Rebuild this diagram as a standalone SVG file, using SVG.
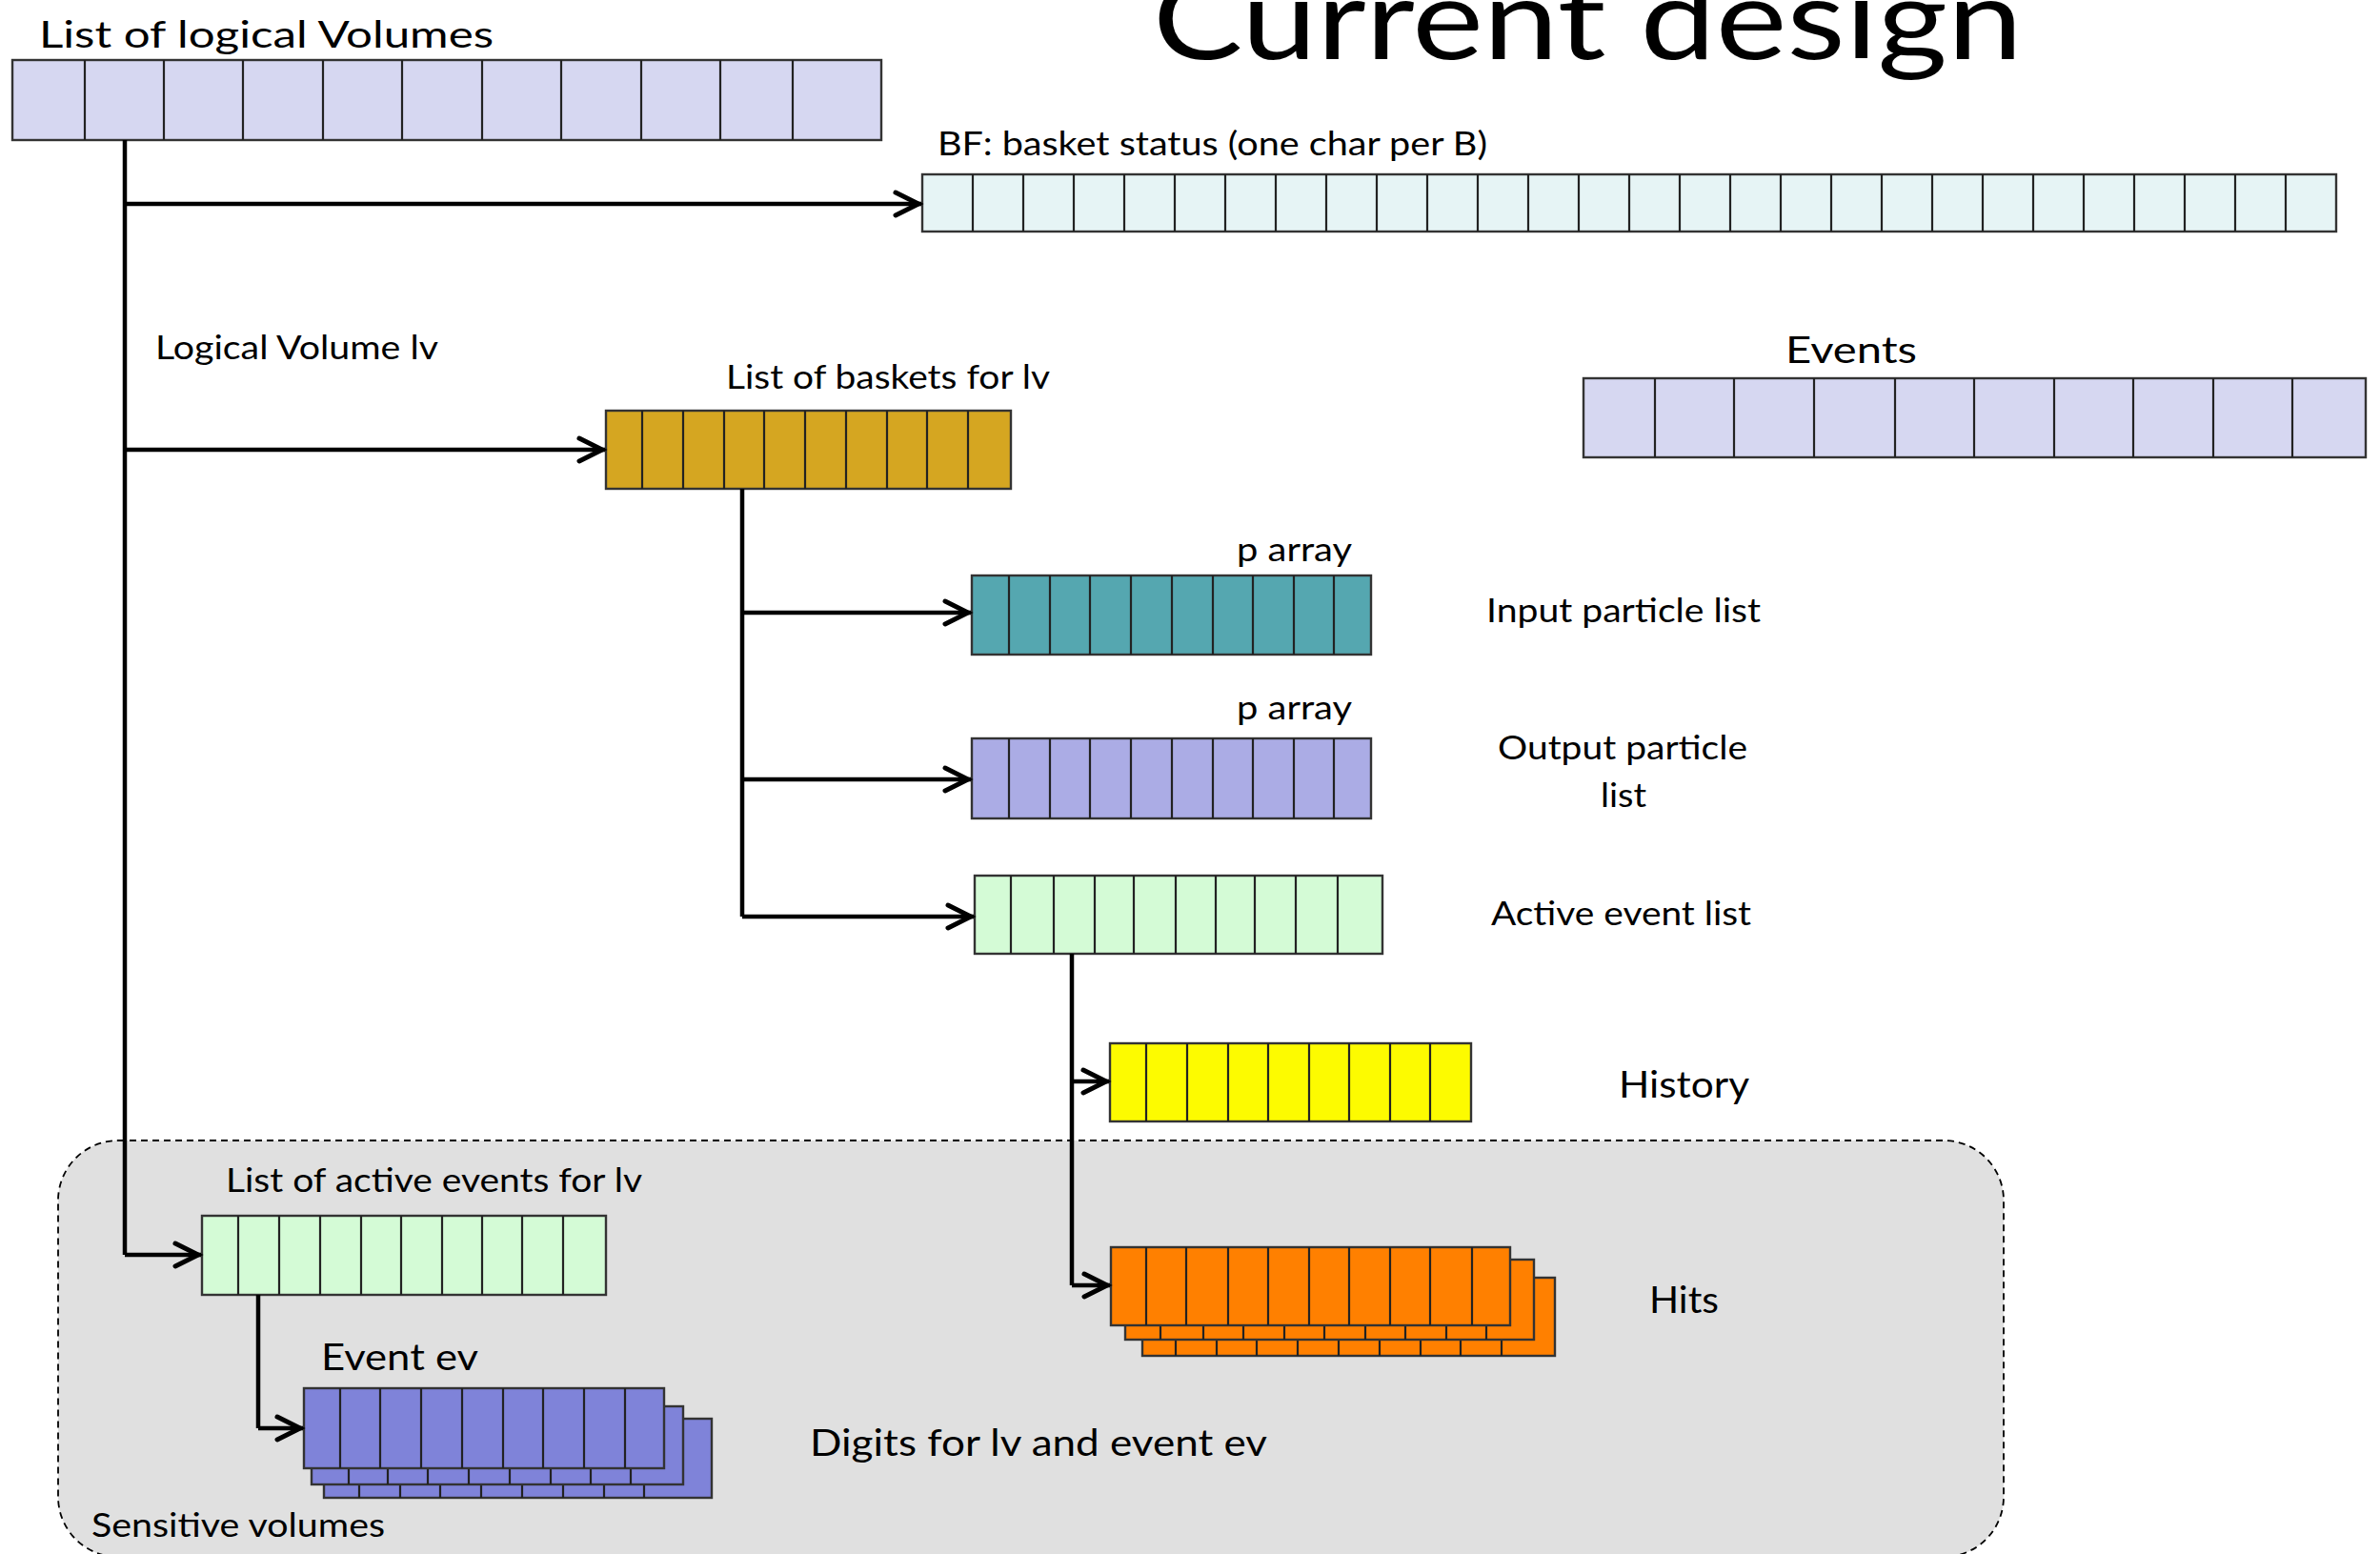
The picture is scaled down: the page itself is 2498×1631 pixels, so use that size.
<svg xmlns="http://www.w3.org/2000/svg" width="2498" height="1631" viewBox="0 0 2498 1631">
  <style>
    text { font-family: Lato, "Open Sans", "Liberation Sans", sans-serif; fill: #000; }
    .sm { font-size: 34px; }
    .lg { font-size: 39px; }
    .cell { stroke: #333; stroke-width: 2.4; }
    .div { stroke: #222; stroke-width: 2.2; fill: none; }
    .wire { stroke: #000; stroke-width: 4.5; fill: none; stroke-linejoin: miter; }
    .arr { marker-end: url(#chev); }
  </style>
  <defs>
    <marker id="chev" viewBox="-32 -20 40 40" markerWidth="40" markerHeight="40" refX="0" refY="0" orient="auto" markerUnits="userSpaceOnUse" overflow="visible">
      <path d="M-27,-12 L-3,0 L-27,12" fill="none" stroke="#000" stroke-width="5" stroke-linecap="round"/>
    </marker>
  </defs>

  <rect width="2498" height="1631" fill="#fff"/>

  <!-- sensitive volumes region -->
  <g id="sensitive-volumes">
    <rect x="61" y="1197" width="2042" height="437" rx="63" ry="63" fill="#e0e0e0" stroke="#000" stroke-width="1.8" stroke-dasharray="7 5"/>
    <text class="sm" x="96" y="1613" textLength="308" lengthAdjust="spacingAndGlyphs">Sensitive volumes</text>
  </g>

  <text x="1210" y="62" font-size="118" textLength="913" lengthAdjust="spacingAndGlyphs">Current design</text>

  <!-- list of logical volumes -->
  <g id="lv-list">
    <text class="lg" x="41" y="50" textLength="477" lengthAdjust="spacingAndGlyphs">List of logical Volumes</text>
    <rect class="cell" x="13" y="63" width="912" height="84" fill="#d6d7f1"/>
    <path class="div" d="M89 63V147M172 63V147M255 63V147M339 63V147M422 63V147M506 63V147M589 63V147M673 63V147M756 63V147M832 63V147"/>
  </g>

  <!-- basket status -->
  <g id="basket-status">
    <text class="sm" x="984" y="163" textLength="577" lengthAdjust="spacingAndGlyphs">BF: basket status (one char per B)</text>
    <rect class="cell" x="968" y="183" width="1484" height="60" fill="#e6f4f5"/>
    <path class="div" d="M1021 183V243M1074 183V243M1127 183V243M1180 183V243M1233 183V243M1286 183V243M1339 183V243M1392 183V243M1445 183V243M1498 183V243M1551 183V243M1604 183V243M1657 183V243M1710 183V243M1763 183V243M1816 183V243M1869 183V243M1922 183V243M1975 183V243M2028 183V243M2081 183V243M2134 183V243M2187 183V243M2240 183V243M2293 183V243M2346 183V243M2399 183V243"/>
  </g>

  <text id="lv-label" class="sm" x="163" y="377" font-size="36" textLength="297" lengthAdjust="spacingAndGlyphs">Logical Volume lv</text>

  <!-- events -->
  <g id="events">
    <text class="lg" x="1874" y="381" textLength="138" lengthAdjust="spacingAndGlyphs">Events</text>
    <rect class="cell" x="1662" y="397" width="821" height="83" fill="#d6d7f1"/>
    <path class="div" d="M1737 397V480M1820 397V480M1904 397V480M1989 397V480M2072 397V480M2156 397V480M2239 397V480M2323 397V480M2406 397V480"/>
  </g>

  <!-- baskets for lv -->
  <g id="baskets">
    <text class="sm" x="762" y="408" textLength="340" lengthAdjust="spacingAndGlyphs">List of baskets for lv</text>
    <rect class="cell" x="636" y="431" width="425" height="82" fill="#d5a621"/>
    <path class="div" d="M674 431V513M717 431V513M760 431V513M802 431V513M845 431V513M888 431V513M931 431V513M973 431V513M1016 431V513"/>
  </g>

  <!-- input particles -->
  <g id="input-particles">
    <text class="sm" x="1298" y="589" textLength="121" lengthAdjust="spacingAndGlyphs">p array</text>
    <rect class="cell" x="1020" y="604" width="419" height="83" fill="#55a7b0"/>
    <path class="div" d="M1059 604V687M1102 604V687M1144 604V687M1187 604V687M1230 604V687M1273 604V687M1315 604V687M1358 604V687M1400 604V687"/>
    <text class="sm" x="1560" y="653" textLength="288" lengthAdjust="spacingAndGlyphs">Input particle list</text>
  </g>

  <!-- output particles -->
  <g id="output-particles">
    <text class="sm" x="1298" y="755" textLength="121" lengthAdjust="spacingAndGlyphs">p array</text>
    <rect class="cell" x="1020" y="775" width="419" height="84" fill="#abace5"/>
    <path class="div" d="M1059 775V859M1102 775V859M1144 775V859M1187 775V859M1230 775V859M1273 775V859M1315 775V859M1358 775V859M1400 775V859"/>
    <text class="sm" x="1572" y="797" textLength="262" lengthAdjust="spacingAndGlyphs">Output particle</text>
    <text class="sm" x="1680" y="847" textLength="48" lengthAdjust="spacingAndGlyphs">list</text>
  </g>

  <!-- active events -->
  <g id="active-events">
    <rect class="cell" x="1023" y="919" width="428" height="82" fill="#d4fbd6"/>
    <path class="div" d="M1061 919V1001M1106 919V1001M1149 919V1001M1190 919V1001M1234 919V1001M1276 919V1001M1317 919V1001M1360 919V1001M1404 919V1001"/>
    <text class="sm" x="1565" y="971" textLength="273" lengthAdjust="spacingAndGlyphs">Active event list</text>
  </g>

  <!-- history -->
  <g id="history">
    <rect class="cell" x="1165" y="1095" width="379" height="82" fill="#fdfb00"/>
    <path class="div" d="M1203 1095V1177M1246 1095V1177M1289 1095V1177M1331 1095V1177M1374 1095V1177M1416 1095V1177M1459 1095V1177M1501 1095V1177"/>
    <text class="lg" x="1699" y="1152" textLength="137" lengthAdjust="spacingAndGlyphs">History</text>
  </g>

  <!-- hits (stacked) -->
  <g id="hits">
    <rect class="cell" x="1199" y="1341" width="433" height="82" fill="#ff8000"/>
    <path class="div" d="M1234 1341V1423M1277 1341V1423M1319 1341V1423M1362 1341V1423M1405 1341V1423M1448 1341V1423M1491 1341V1423M1533 1341V1423M1576 1341V1423"/>
    <rect class="cell" x="1181" y="1322" width="429" height="84" fill="#ff8000"/>
    <path class="div" d="M1218 1322V1406M1263 1322V1406M1305 1322V1406M1348 1322V1406M1390 1322V1406M1433 1322V1406M1475 1322V1406M1518 1322V1406M1560 1322V1406"/>
    <rect class="cell" x="1166" y="1309" width="419" height="82" fill="#ff8000"/>
    <path class="div" d="M1203 1309V1391M1245 1309V1391M1289 1309V1391M1331 1309V1391M1374 1309V1391M1416 1309V1391M1459 1309V1391M1501 1309V1391M1545 1309V1391"/>
    <text class="lg" x="1731" y="1378" textLength="73" lengthAdjust="spacingAndGlyphs">Hits</text>
  </g>

  <!-- active events for lv -->
  <g id="lv-active-events">
    <text class="sm" x="237" y="1251" textLength="437" lengthAdjust="spacingAndGlyphs">List of active events for lv</text>
    <rect class="cell" x="212" y="1276" width="424" height="83" fill="#d4fbd6"/>
    <path class="div" d="M250 1276V1359M293 1276V1359M336 1276V1359M379 1276V1359M421 1276V1359M464 1276V1359M506 1276V1359M548 1276V1359M591 1276V1359"/>
  </g>

  <!-- digits (stacked) -->
  <g id="digits">
    <text class="lg" x="337" y="1438" textLength="165" lengthAdjust="spacingAndGlyphs">Event ev</text>
    <rect class="cell" x="340" y="1489" width="407" height="83" fill="#7f83d9"/>
    <path class="div" d="M377 1489V1572M420 1489V1572M462 1489V1572M505 1489V1572M548 1489V1572M591 1489V1572M634 1489V1572M676 1489V1572"/>
    <rect class="cell" x="327" y="1476" width="390" height="82" fill="#7f83d9"/>
    <path class="div" d="M366 1476V1558M407 1476V1558M449 1476V1558M492 1476V1558M535 1476V1558M578 1476V1558M620 1476V1558M662 1476V1558"/>
    <rect class="cell" x="319" y="1457" width="378" height="84" fill="#7f83d9"/>
    <path class="div" d="M357 1457V1541M399 1457V1541M442 1457V1541M485 1457V1541M528 1457V1541M570 1457V1541M613 1457V1541M656 1457V1541"/>
    <text class="lg" x="850" y="1528" textLength="480" lengthAdjust="spacingAndGlyphs">Digits for lv and event ev</text>
  </g>

  <!-- connectors -->
  <g id="connectors">
    <path class="wire" d="M131 147V1317"/>
    <path class="wire arr" d="M131 1317H211"/>
    <path class="wire arr" d="M131 214H967"/>
    <path class="wire arr" d="M131 472H635"/>
    <path class="wire" d="M779 513V962"/>
    <path class="wire arr" d="M779 643H1019"/>
    <path class="wire arr" d="M779 818H1019"/>
    <path class="wire arr" d="M779 962H1022"/>
    <path class="wire" d="M1125 1001V1349"/>
    <path class="wire arr" d="M1125 1135H1164"/>
    <path class="wire arr" d="M1125 1349H1165"/>
    <path class="wire" d="M271 1359V1499"/>
    <path class="wire arr" d="M271 1499H318"/>
  </g>
</svg>
